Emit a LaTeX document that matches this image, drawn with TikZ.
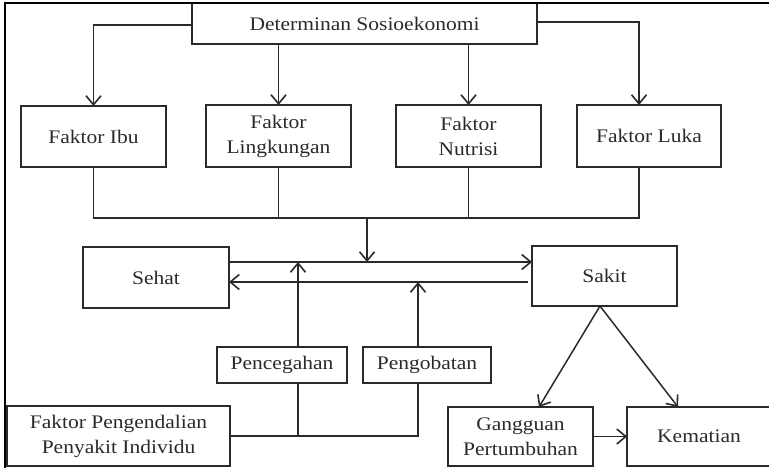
\documentclass[tikz,border=0pt]{standalone}
\usepackage{fontspec}
\setmainfont{Liberation Serif}[FakeStretch=1.12]
\usetikzlibrary{arrows.meta,calc}
\definecolor{ink}{HTML}{2A2A2A}
\begin{document}
\begin{tikzpicture}[x=1pt,y=-1pt,
  box/.style={draw=ink, line width=1.4pt, text=ink, inner sep=0pt, outer sep=0pt, align=center, font=\fontsize{19.2}{25}\selectfont},
  ln/.style={draw=ink, line width=1.5pt},
  arr/.style={ln, -{Straight Barb[length=9pt,width=15pt,line width=1.6pt]}}]
\useasboundingbox (0,0) rectangle (769,468);
% helper coordinates (rows)
\coordinate (yl) at (0,25);
\coordinate (yr) at (0,22);
\coordinate (ya) at (0,262);
\coordinate (yb) at (0,282);
% nodes
\node[box, minimum width=345pt, minimum height=41pt] (det) at (364.5,23.5) {Determinan Sosioekonomi};
\node[box, minimum width=145pt, minimum height=61pt] (ibu) at (93.5,136.5) {Faktor Ibu};
\node[box, minimum width=145pt, minimum height=62pt] (ling) at (278.5,136) {Faktor\\Lingkungan};
\node[box, minimum width=145pt, minimum height=62pt] (nut) at (468.5,136) {Faktor\\Nutrisi};
\node[box, minimum width=144pt, minimum height=62pt] (luka) at (649,136) {Faktor Luka};
\node[box, minimum width=146pt, minimum height=61pt] (sehat) at (156,277.5) {Sehat};
\node[box, minimum width=145pt, minimum height=60pt] (sakit) at (604.5,276) {Sakit};
\node[box, minimum width=130pt, minimum height=36pt] (pence) at (282,365) {Pencegahan};
\node[box, minimum width=128pt, minimum height=36pt] (pengo) at (427,365) {Pengobatan};
\node[box, minimum width=223pt, minimum height=60pt] (fpp) at (118.5,436) {Faktor Pengendalian\\Penyakit Individu};
\node[box, minimum width=145pt, minimum height=59pt] (gang) at (520.5,436.5) {Gangguan\\Pertumbuhan};
\node[box, minimum width=144pt, minimum height=59pt] (kem) at (699,436.5) {Kematian};
% top arrows
\coordinate (lkn) at ($(luka.north)+(-10,0)$);
\coordinate (lks) at ($(luka.south)+(-10,0)$);
\draw[arr] (det.west |- yl) -| (ibu.north);
\draw[arr] (det.south -| ling.north) -- (ling.north);
\draw[arr] (det.south -| nut.north) -- (nut.north);
\draw[arr] (det.east |- yr) -| (lkn);
% merge
\coordinate (jn) at (367,218);
\draw[ln] (ibu.south) |- (lks |- jn) -- (lks);
\draw[ln] (ling.south) -- (ling.south |- jn);
\draw[ln] (nut.south) -- (nut.south |- jn);
\draw[arr] (jn) -- (jn |- ya);
% sehat / sakit
\draw[arr] (sehat.east |- ya) -- (sakit.west |- ya);
\draw[arr, shorten <=4pt] (sakit.west |- yb) -- (sehat.east |- yb);
% prevention / treatment
\coordinate (pc) at ($(pence.north)+(16,0)$);
\coordinate (po) at ($(pengo.north)+(-9,0)$);
\draw[arr] (pc) -- (pc |- ya);
\draw[arr] (po) -- (po |- yb);
\draw[ln] (pc |- pence.south) -- (pc |- fpp.east);
\draw[ln] (fpp.east) -| (po |- pengo.south);
% outcomes
\coordinate (sk) at ($(sakit.south)+(-4.5,0)$);
\draw[arr] (sk) -- ($(gang.north)+(18.5,0)$);
\draw[arr] (sk) -- ($(kem.north)+(-21,0)$);
\draw[arr] (gang.east) -- (kem.west);
% frame
\draw[black, line width=2.6pt] (5,470) -- (5,3) -- (772,3);
\end{tikzpicture}
\end{document}
